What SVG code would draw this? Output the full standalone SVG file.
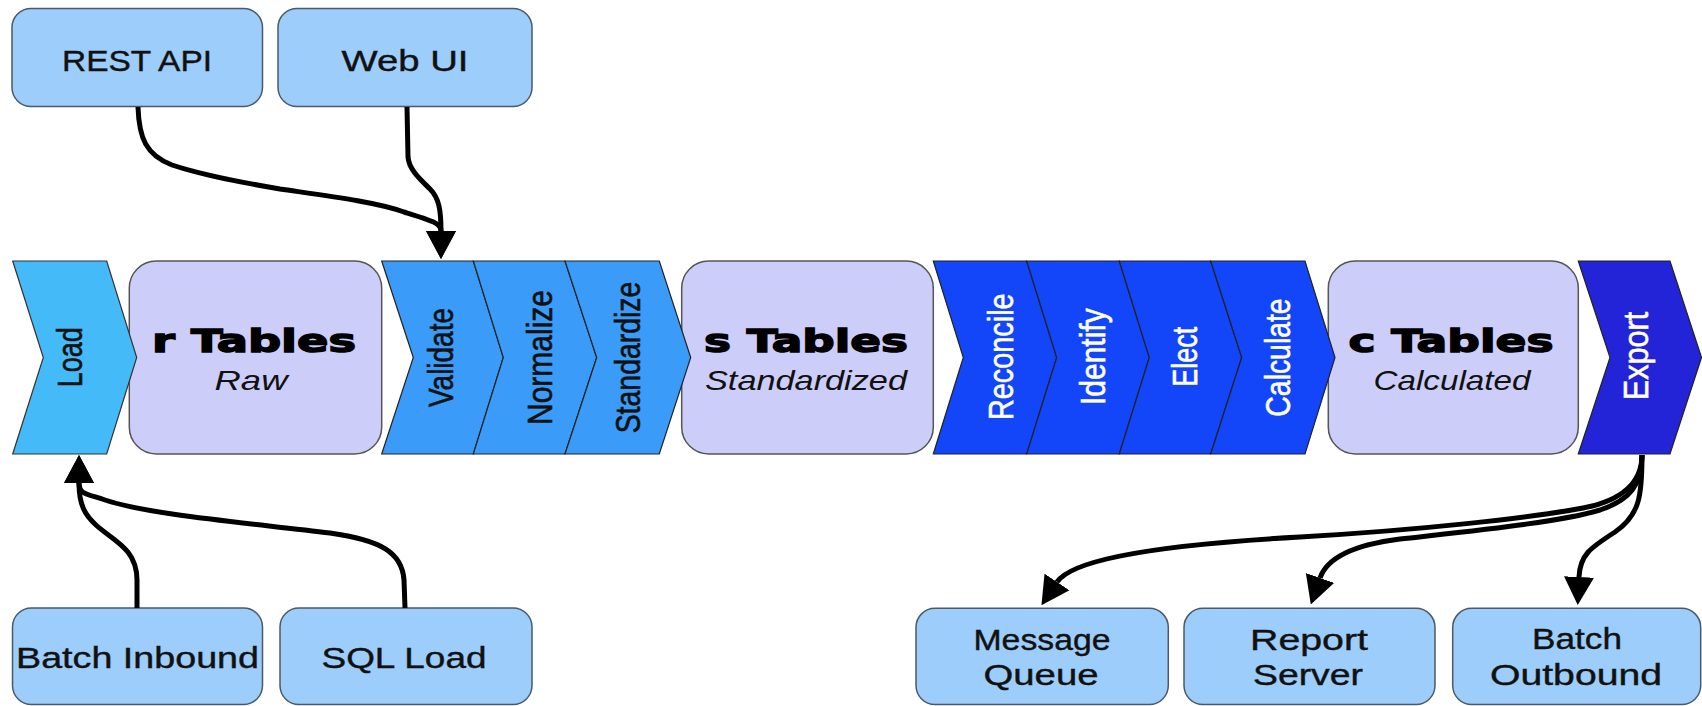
<svg xmlns="http://www.w3.org/2000/svg" width="1702" height="706" viewBox="0 0 1702 706">
<defs>
<marker id="arr" viewBox="0 0 28 30" refX="0" refY="15" markerWidth="28" markerHeight="30" markerUnits="userSpaceOnUse" orient="auto">
<path d="M0,0 L28,15 L0,30 z" fill="#000"/>
</marker>
<style>
.src{fill:#9dcdfa;stroke:#4a5a6a;stroke-width:1.5}
.tbl{fill:#cdcdf9;stroke:#555;stroke-width:1.5}
.c1{fill:#44bbf8;stroke:#333;stroke-width:1.2}
.c2{fill:#3a9bf8;stroke:#222;stroke-width:1.2}
.c3{fill:#1246f8;stroke:#222;stroke-width:1.2}
.c4{fill:#2323d8;stroke:#222;stroke-width:1.2}
.lbl{font-family:"Liberation Sans",Arial,sans-serif;font-size:30px;fill:#111;text-anchor:middle;stroke:#111;stroke-width:0.4}
.rot{font-family:"Liberation Sans",Arial,sans-serif;font-size:29px;text-anchor:middle;stroke-width:0.5}
.dark{fill:#111;stroke:#111}
.light{fill:#fff;stroke:#fff}
.ttl{font-family:"DejaVu Sans",sans-serif;font-weight:bold;font-size:32px;fill:#000;stroke:#000;stroke-width:1.4;text-anchor:middle}
.sub{font-family:"Liberation Sans",Arial,sans-serif;font-style:italic;font-size:28px;fill:#111;text-anchor:middle}
.con{fill:none;stroke:#000;stroke-width:5;marker-end:url(#arr)}
</style>
</defs>

<g id="rest-api">
<rect class="src" x="12" y="8.5" width="250.5" height="98" rx="19"/>
<text class="lbl" x="137" y="71" textLength="150" lengthAdjust="spacingAndGlyphs">REST API</text>
</g>
<g id="web-ui">
<rect class="src" x="278" y="8.5" width="254" height="98" rx="19"/>
<text class="lbl" x="405" y="71" textLength="127" lengthAdjust="spacingAndGlyphs">Web UI</text>
</g>

<g id="r-tables">
<rect class="tbl" x="129.3" y="261" width="252.4" height="193" rx="27"/>
<text class="ttl" x="254" y="351.7" textLength="204" lengthAdjust="spacingAndGlyphs">r Tables</text>
<text class="sub" x="251" y="390" textLength="73" lengthAdjust="spacingAndGlyphs">Raw</text>
</g>
<g id="s-tables">
<rect class="tbl" x="681.7" y="261" width="251.6" height="193" rx="27"/>
<text class="ttl" x="806" y="351.7" textLength="204" lengthAdjust="spacingAndGlyphs">s Tables</text>
<text class="sub" x="806" y="390" textLength="202" lengthAdjust="spacingAndGlyphs">Standardized</text>
</g>
<g id="c-tables">
<rect class="tbl" x="1328.3" y="261" width="250" height="193" rx="27"/>
<text class="ttl" x="1451" y="351.7" textLength="205" lengthAdjust="spacingAndGlyphs">c Tables</text>
<text class="sub" x="1452" y="390" textLength="157" lengthAdjust="spacingAndGlyphs">Calculated</text>
</g>

<g id="load">
<polygon class="c1" points="12.7,261 106.7,261 136.7,357.5 106.7,454 12.7,454 43.3,357.5"/>
<text class="rot dark" transform="translate(82,357.3) scale(1.2,1) rotate(-90)" textLength="60" lengthAdjust="spacingAndGlyphs">Load</text>
</g>
<g id="validate">
<polygon class="c2" points="381.7,261 473.3,261 503.3,357.5 473.3,454 381.7,454 413.3,357.5"/>
<text class="rot dark" transform="translate(453.3,357.5) scale(1.2,1) rotate(-90)" textLength="99" lengthAdjust="spacingAndGlyphs">Validate</text>
</g>
<g id="normalize">
<polygon class="c2" points="473.3,261 565,261 596.7,357.5 565,454 473.3,454 503.3,357.5"/>
<text class="rot dark" transform="translate(551.7,357.5) scale(1.2,1) rotate(-90)" textLength="135" lengthAdjust="spacingAndGlyphs">Normalize</text>
</g>
<g id="standardize">
<polygon class="c2" points="565,261 659.3,261 690.7,357.5 659.3,454 565,454 596.7,357.5"/>
<text class="rot dark" transform="translate(640,357.5) scale(1.2,1) rotate(-90)" textLength="151.7" lengthAdjust="spacingAndGlyphs">Standardize</text>
</g>
<g id="reconcile">
<polygon class="c3" points="933.3,261 1026.7,261 1056.7,357.5 1026.7,454 933.3,454 963.3,357.5"/>
<text class="rot light" transform="translate(1013.3,356.7) scale(1.2,1) rotate(-90)" textLength="126.7" lengthAdjust="spacingAndGlyphs">Reconcile</text>
</g>
<g id="identify">
<polygon class="c3" points="1026.7,261 1119.3,261 1149.3,357.5 1119.3,454 1026.7,454 1056.7,357.5"/>
<text class="rot light" transform="translate(1105,356.7) scale(1.2,1) rotate(-90)" textLength="96.7" lengthAdjust="spacingAndGlyphs">Identify</text>
</g>
<g id="elect">
<polygon class="c3" points="1119.3,261 1210.7,261 1241.7,357.5 1210.7,454 1119.3,454 1149.3,357.5"/>
<text class="rot light" transform="translate(1196.7,356.7) scale(1.2,1) rotate(-90)" textLength="60" lengthAdjust="spacingAndGlyphs">Elect</text>
</g>
<g id="calculate">
<polygon class="c3" points="1210.7,261 1305,261 1335,357.5 1305,454 1210.7,454 1241.7,357.5"/>
<text class="rot light" transform="translate(1290,357.5) scale(1.2,1) rotate(-90)" textLength="118.3" lengthAdjust="spacingAndGlyphs">Calculate</text>
</g>
<g id="export">
<polygon class="c4" points="1578.3,261 1670,261 1701.5,357.5 1670,454 1578.3,454 1610,357.5"/>
<text class="rot light" transform="translate(1648.3,356) scale(1.2,1) rotate(-90)" textLength="88.3" lengthAdjust="spacingAndGlyphs">Export</text>
</g>

<g id="batch-inbound">
<rect class="src" x="12.5" y="608" width="250" height="96.5" rx="19"/>
<text class="lbl" x="137.5" y="668" textLength="243" lengthAdjust="spacingAndGlyphs">Batch Inbound</text>
</g>
<g id="sql-load">
<rect class="src" x="280" y="608" width="252" height="96.5" rx="19"/>
<text class="lbl" x="404" y="668" textLength="165" lengthAdjust="spacingAndGlyphs">SQL Load</text>
</g>
<g id="message-queue">
<rect class="src" x="916" y="608.3" width="252.3" height="96.2" rx="19"/>
<text class="lbl" x="1042" y="650" textLength="137" lengthAdjust="spacingAndGlyphs">Message</text>
<text class="lbl" x="1041" y="685" textLength="115" lengthAdjust="spacingAndGlyphs">Queue</text>
</g>
<g id="report-server">
<rect class="src" x="1184" y="608.3" width="251" height="96.2" rx="19"/>
<text class="lbl" x="1309" y="650" textLength="118" lengthAdjust="spacingAndGlyphs">Report</text>
<text class="lbl" x="1308" y="685" textLength="110" lengthAdjust="spacingAndGlyphs">Server</text>
</g>
<g id="batch-outbound">
<rect class="src" x="1452.7" y="608.3" width="248" height="96.2" rx="19"/>
<text class="lbl" x="1577" y="649" textLength="90" lengthAdjust="spacingAndGlyphs">Batch</text>
<text class="lbl" x="1576" y="685" textLength="172" lengthAdjust="spacingAndGlyphs">Outbound</text>
</g>

<g id="connectors">
<path class="con" d="M138,107 C139,138 146,155 172,165 C205,176 245,183 280,189 C328,196 376,202 404,212 C430,220 441,223 441,231"/>
<path class="con" d="M407,107 L408,157 C409,170 421,180 430,189 C439,198 441,210 441,231"/>
<path class="con" d="M137,608 L137,580 C137,548 112,540 96,525 C85,515 79,505 79,483"/>
<path class="con" d="M405,608 L404,580 C402,552 380,540 330,533 C250,523 150,515 105,500 C88,494 79,495 79,483"/>
<path class="con" d="M1642,455 C1642,480 1625,500 1583,508 C1530,518 1420,530 1300,537 C1190,543 1075,555 1057,582"/>
<path class="con" d="M1642,455 C1642,485 1630,500 1600,510 C1560,522 1480,530 1400,539 C1360,544 1328,555 1320,578"/>
<path class="con" d="M1642,455 C1642,495 1640,515 1615,532 C1590,548 1580,555 1579,577"/>
</g>
</svg>
